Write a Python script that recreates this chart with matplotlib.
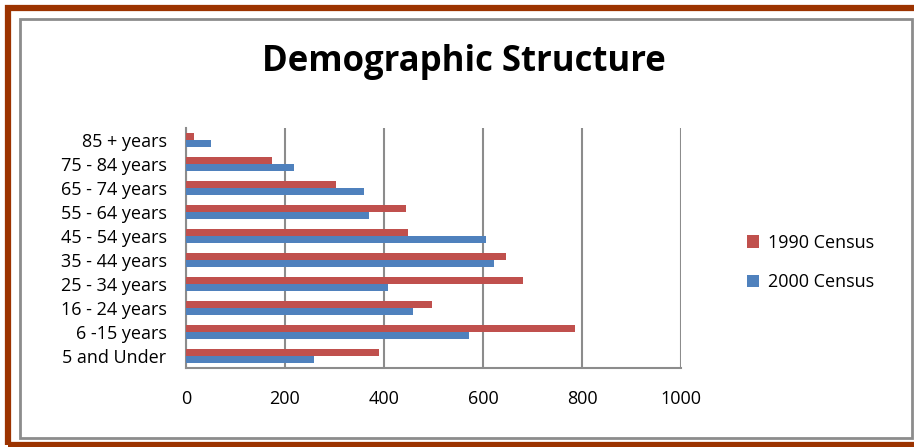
import matplotlib.pyplot as plt
import numpy as np
from matplotlib.patches import Rectangle

plt.rcParams['font.family'] = ['Open Sans', 'DejaVu Sans']

groups = ['5 and Under', '6 -15 years', '16 - 24 years', '25 - 34 years', '35 - 44 years',
          '45 - 54 years', '55 - 64 years', '65 - 74 years', '75 - 84 years', '85 + years']
census_1990 = [390, 786, 497, 681, 646, 448, 444, 303, 174, 16]
census_2000 = [259, 572, 459, 408, 622, 606, 370, 360, 218, 50]
xticks = [0, 200, 400, 600, 800, 1000]

fig = plt.figure(figsize=(9.14, 4.47), dpi=100)

# brown outer frame + grey inner frame
fig.patches.append(Rectangle((8 / 914, 2 / 447), 920 / 914, 437 / 447, transform=fig.transFigure,
                             fill=False, edgecolor='#9c3300', linewidth=4.5))
fig.patches.append(Rectangle((20 / 914, 9 / 447), 892 / 914, 419 / 447, transform=fig.transFigure,
                             fill=False, edgecolor='#8c8c8c', linewidth=2))

ax = fig.add_axes([186 / 914, 79 / 447, 495 / 914, 240 / 447])

y = np.arange(len(groups))
h = 0.29
ax.barh(y + h / 2, census_1990, height=h, color='#c0504d', label='1990 Census', zorder=3)
ax.barh(y - h / 2, census_2000, height=h, color='#4f81bd', label='2000 Census', zorder=3)

ax.set_xlim(0, 1000)
ax.set_ylim(-0.5, 9.5)
ax.set_xticks(xticks)
ax.set_xticklabels([str(v) for v in xticks])
ax.set_yticks(y)
ax.set_yticklabels(groups)
ax.tick_params(axis='both', length=0, labelsize=13)
ax.tick_params(axis='x', pad=16)
ax.tick_params(axis='y', pad=14)
ax.grid(axis='x', color='#8c8c8c', linewidth=1.5, zorder=0)
for s in ['top', 'right']:
    ax.spines[s].set_visible(False)
ax.spines['left'].set_color('#8c8c8c')
ax.spines['left'].set_linewidth(1.5)
ax.spines['bottom'].set_color('#8c8c8c')
ax.spines['bottom'].set_linewidth(1.5)

fig.text(0.507, 0.862, 'Demographic Structure', ha='center', va='center',
         fontsize=25, fontweight='bold')

ax.legend(loc='center left', bbox_to_anchor=(1.1, 0.44), frameon=False, fontsize=13,
          handlelength=0.7, handleheight=0.7, labelspacing=1.2, handletextpad=0.5)

fig.savefig('out.png', dpi=100)
